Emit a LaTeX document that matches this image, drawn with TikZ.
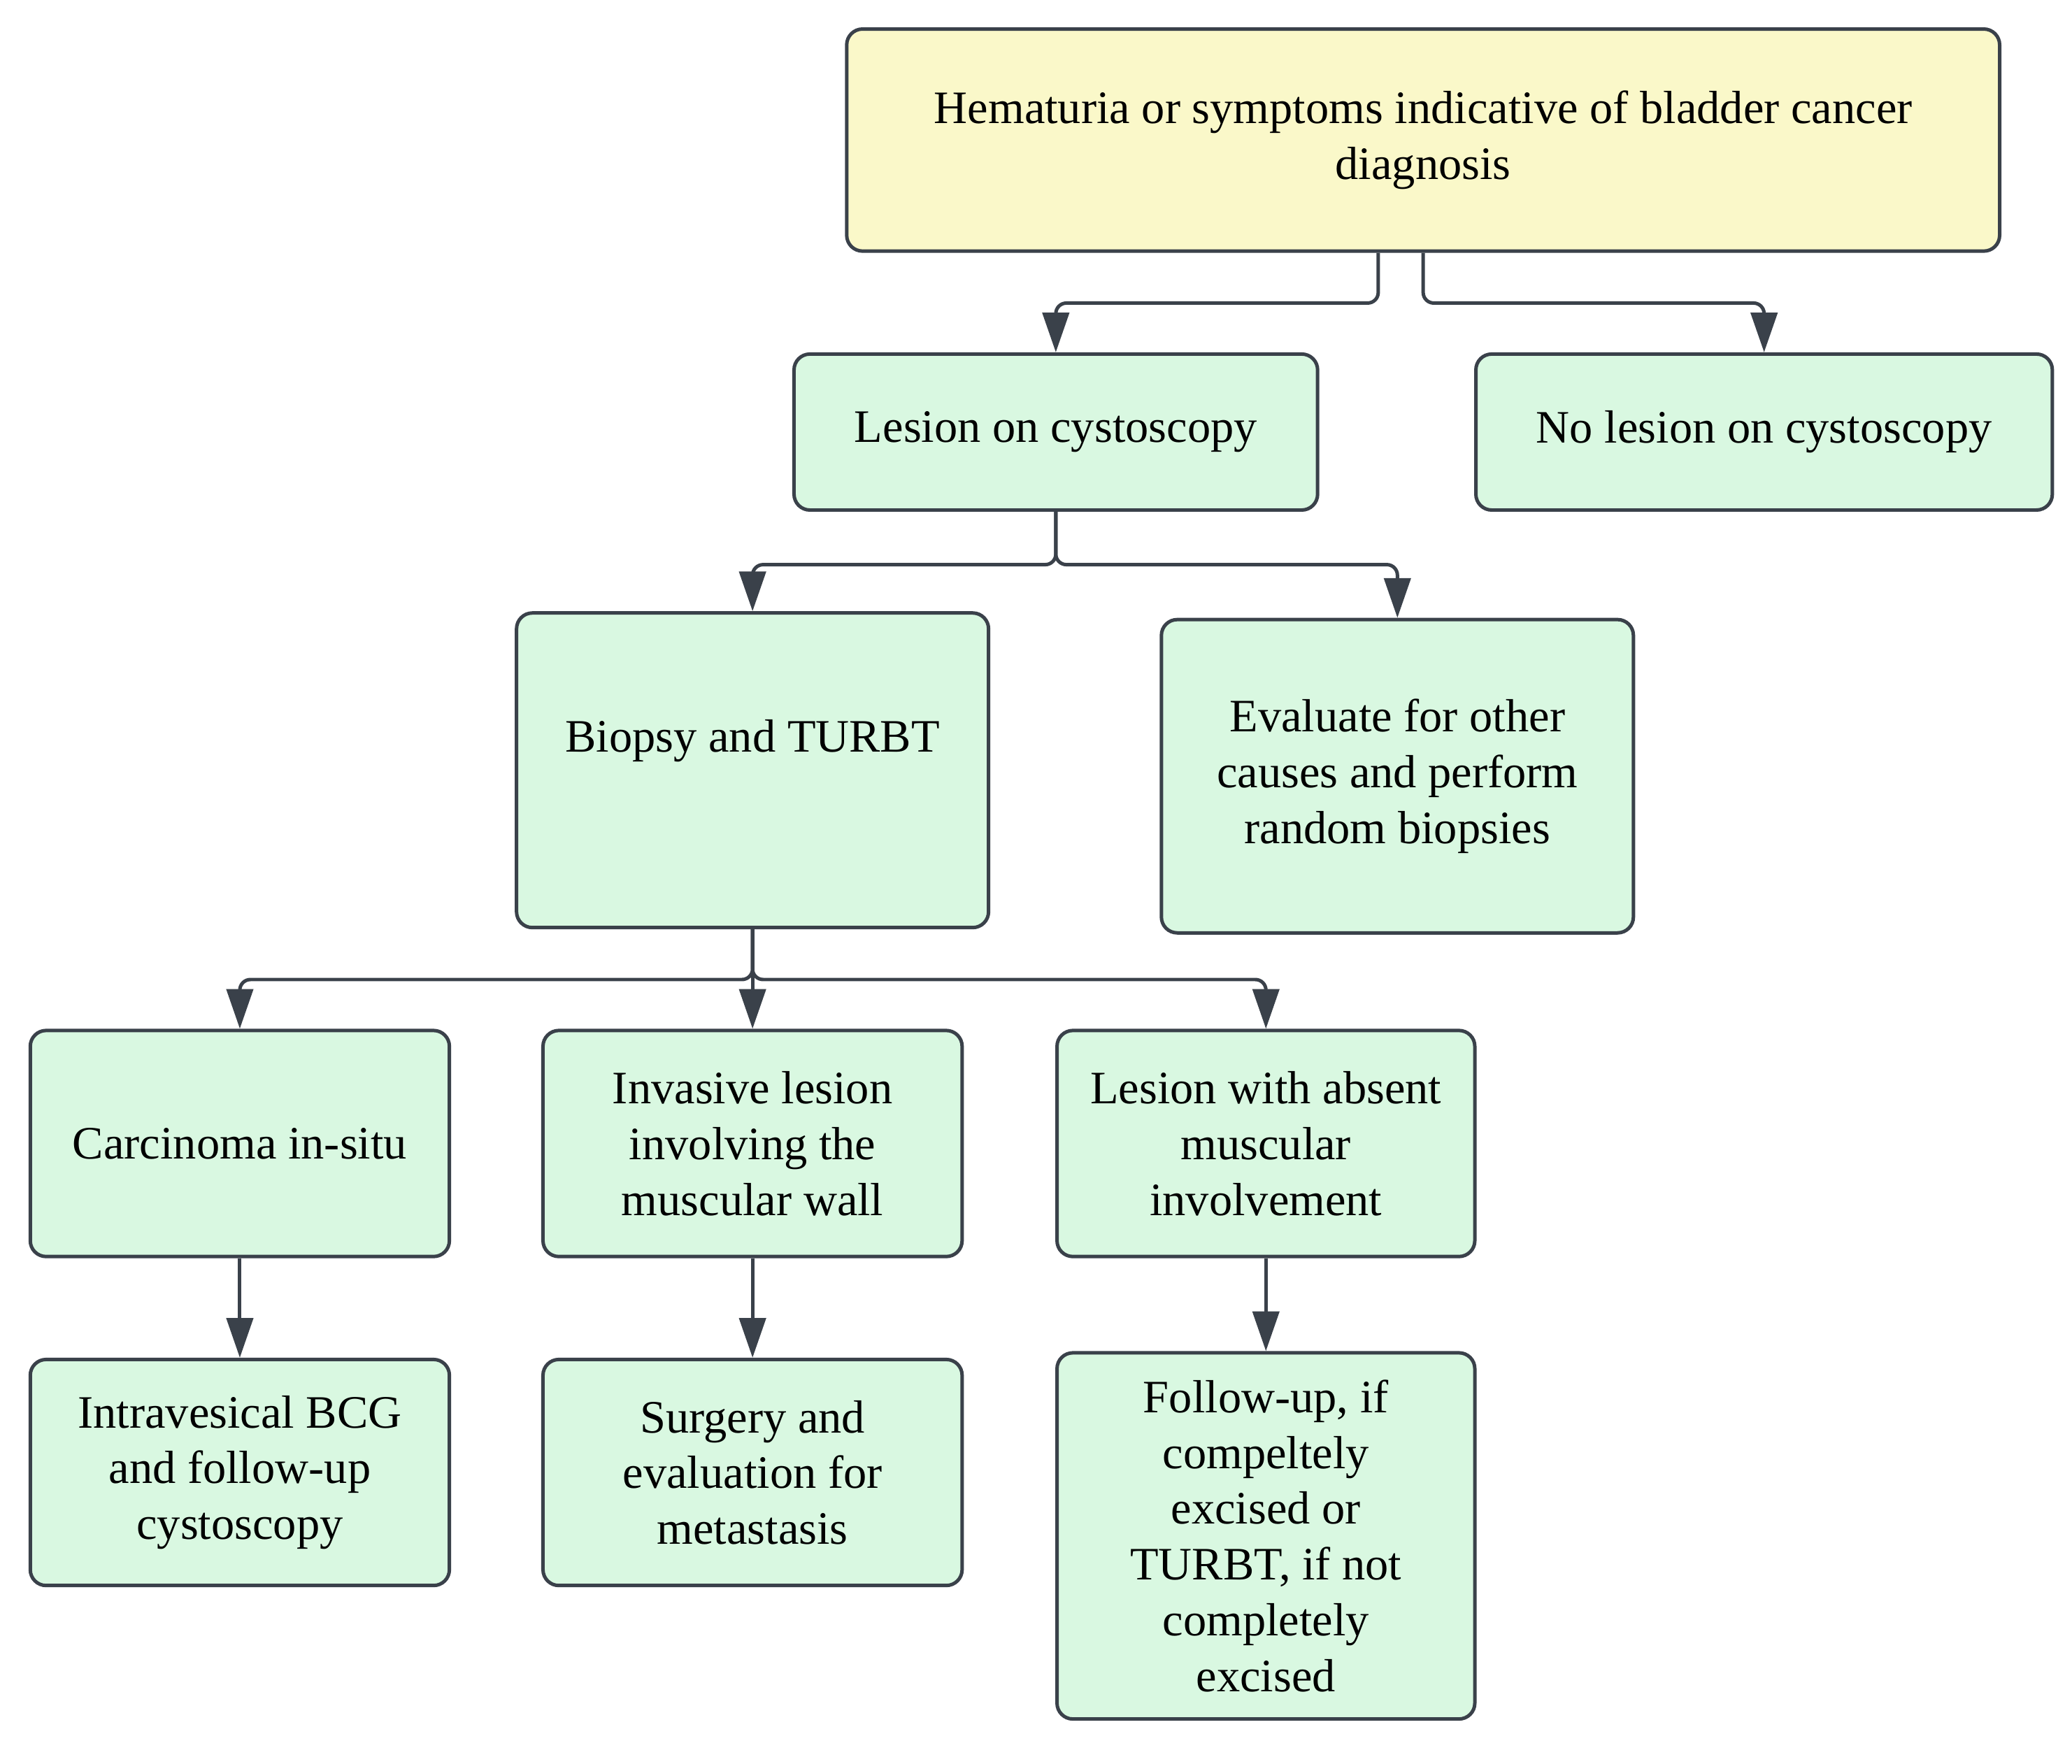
\documentclass[tikz,border=0pt]{standalone}
\usepackage{fontspec}
\setmainfont{Liberation Serif}
\usetikzlibrary{arrows.meta}
\definecolor{yel}{HTML}{FAF8C9}
\definecolor{grn}{HTML}{D9F8E1}
\definecolor{edge}{HTML}{3A414A}
\begin{document}
\begin{tikzpicture}[x=0.01cm,y=0.01cm,
 box/.style={draw=edge,line width=0.75pt,rounded corners=0.12cm,fill=grn,align=center,
   font=\fontsize{10pt}{12pt}\selectfont,inner sep=0pt},
 conn/.style={draw=edge,line width=0.75pt,rounded corners=0.08cm,-{Triangle[length=0.3cm,width=0.2cm]}}]
\useasboundingbox (0,0) rectangle (1568,-1335);
\node[box,fill=yel,minimum width=8.72cm,minimum height=1.68cm] (top) at (1077,-106) {Hematuria or symptoms indicative of bladder cancer\\diagnosis};
\node[box,minimum width=3.96cm,minimum height=1.18cm] (les) at (799,-327) {Lesion on cystoscopy};
\node[box,minimum width=4.36cm,minimum height=1.18cm] (nol) at (1335,-327) {No lesion on cystoscopy};
\node[box,minimum width=3.57cm,minimum height=2.38cm] (bio) at (569.5,-583) {Biopsy and TURBT\\[0.1cm]};
\node[box,minimum width=3.57cm,minimum height=2.37cm] (eva) at (1057.5,-587.5) {Evaluate for other\\causes and perform\\random biopsies};
\node[box,minimum width=3.17cm,minimum height=1.71cm] (cis) at (181.5,-865.5) {Carcinoma in-situ};
\node[box,minimum width=3.17cm,minimum height=1.71cm] (inv) at (569.5,-865.5) {Invasive lesion\\involving the\\muscular wall};
\node[box,minimum width=3.16cm,minimum height=1.71cm] (abs) at (958,-865.5) {Lesion with absent\\muscular\\involvement};
\node[box,minimum width=3.17cm,minimum height=1.71cm] (bcg) at (181.5,-1114.5) {Intravesical BCG\\and follow-up\\cystoscopy};
\node[box,minimum width=3.17cm,minimum height=1.71cm] (sur) at (569.5,-1114.5) {Surgery and\\evaluation for\\metastasis};
\node[box,minimum width=3.16cm,minimum height=2.77cm] (fol) at (958,-1162.5) {Follow-up, if\\compeltely\\excised or\\TURBT, if not\\completely\\excised};
\draw[conn] ([xshift=-0.34cm]top.south) -- ++(0,-38) -| (les.north);
\draw[conn] (top.south) -- ++(0,-38) -| (nol.north);
\draw[conn] (les.south) -- ++(0,-40) -| (bio.north);
\draw[conn] (les.south) -- ++(0,-40) -| (eva.north);
\draw[conn] (bio.south) -- ++(0,-38) -| (cis.north);
\draw[conn] (bio.south) -- (inv.north);
\draw[conn] (bio.south) -- ++(0,-38) -| (abs.north);
\draw[conn] (cis) -- (bcg);
\draw[conn] (inv) -- (sur);
\draw[conn] (abs) -- (fol);
\end{tikzpicture}
\end{document}
